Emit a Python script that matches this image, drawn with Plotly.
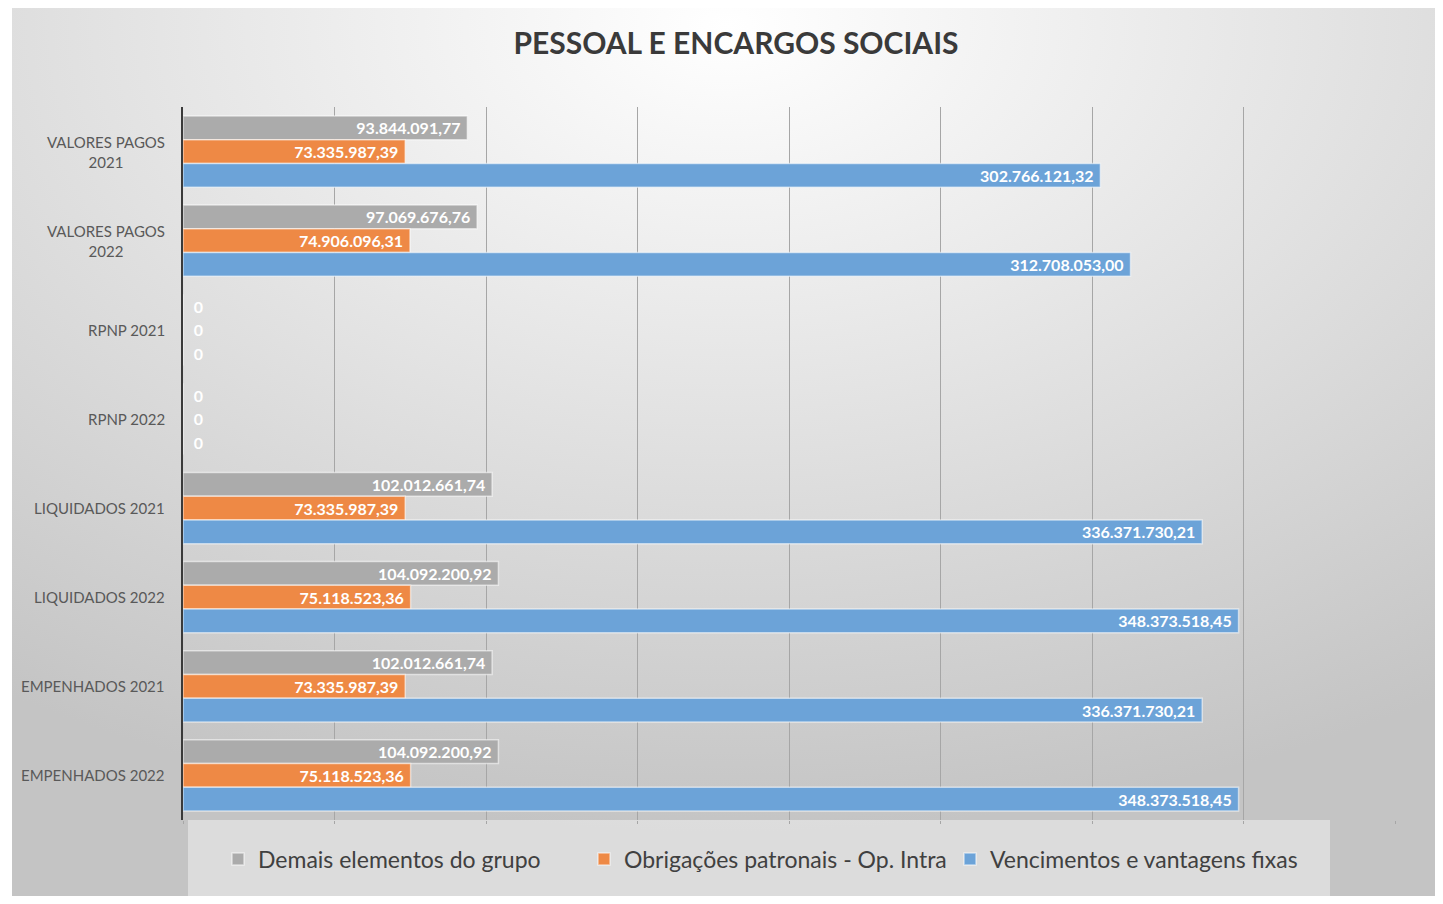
import base64
import plotly.graph_objects as go

# categories top to bottom
categorias = [
    "VALORES PAGOS<br>2021", "VALORES PAGOS<br>2022", "RPNP 2021", "RPNP 2022",
    "LIQUIDADOS 2021", "LIQUIDADOS 2022", "EMPENHADOS 2021", "EMPENHADOS 2022",
]
demais = [93844091.77, 97069676.76, 0, 0, 102012661.74, 104092200.92, 102012661.74, 104092200.92]
obrigacoes = [73335987.39, 74906096.31, 0, 0, 73335987.39, 75118523.36, 73335987.39, 75118523.36]
vencimentos = [302766121.32, 312708053.00, 0, 0, 336371730.21, 348373518.45, 336371730.21, 348373518.45]

series = [
    ("Demais elementos do grupo", demais, "#ababab"),
    ("Obrigações patronais - Op. Intra", obrigacoes, "#ee8945"),
    ("Vencimentos e vantagens fixas", vencimentos, "#6ca3d8"),
]

# page has an 8px body margin, so figure pixels = screen pixels - 8
OFF = 8
W, H = 1443 - OFF, 904 - 2 * OFF
L, T = 183 - OFF, 107 - OFF
R, B = W - (1395 - OFF), H - (820 - OFF)
pw, ph = W - L - R, H - T - B


def br(v):
    # brazilian number format
    if v == 0:
        return "&nbsp;&nbsp;0"
    return f"{v:,.2f}".replace(",", "X").replace(".", ",").replace("X", ".") + "&nbsp;"


def px_x(p):
    # screen pixel -> paper x
    return (p - OFF - L) / pw


def px_y(p):
    # screen pixel -> paper y
    return (H - B - (p - OFF)) / ph


fig = go.Figure()
for nome, vals, cor in series:
    fig.add_trace(go.Bar(
        y=categorias, x=vals, name=nome, orientation="h",
        marker=dict(color=cor, line=dict(color="rgba(255,255,255,0.55)", width=1.5)),
        text=[br(v) for v in vals],
        textposition=["outside" if v == 0 else "inside" for v in vals],
        insidetextanchor="end",
        textangle=0,
        constraintext="none",
        textfont=dict(family="Lato", size=16, color="white", weight="bold"),
        outsidetextfont=dict(family="Lato", size=16, color="white", weight="bold"),
        cliponaxis=False,
        hoverinfo="skip",
    ))

# radial gradient background like the excel chart area
svg = (
    '<svg xmlns="http://www.w3.org/2000/svg" width="1431" height="897" '
    'viewBox="0 0 1431 897" preserveAspectRatio="none">'
    '<defs><radialGradient id="g" cx="0.5" cy="0.02" r="0.9">'
    '<stop offset="0" stop-color="#ffffff"/><stop offset="1" stop-color="#c4c4c4"/>'
    '</radialGradient></defs><rect width="1431" height="897" fill="url(#g)"/></svg>'
)
bg_src = "data:image/svg+xml;base64," + base64.b64encode(svg.encode()).decode()

annots = []
for c in categorias:
    annots.append(dict(
        x=px_x(167), xref="paper", y=c, yref="y", text=c, showarrow=False,
        xanchor="right", yanchor="middle", align="center",
        font=dict(family="Lato", size=15, color="#595959"),
    ))

fig.update_layout(
    width=W, height=H,
    margin=dict(l=L, r=R, t=T, b=B, autoexpand=False),
    paper_bgcolor="white",
    plot_bgcolor="rgba(0,0,0,0)",
    barmode="group", bargap=0.2, bargroupgap=0,
    title=dict(
        text="<b>PESSOAL E ENCARGOS SOCIAIS</b>",
        x=(736 - OFF) / W, xanchor="center", y=1 - (43 - OFF) / H, yanchor="middle",
        font=dict(family="Lato", size=30, color="#3a3a3a"),
    ),
    xaxis=dict(
        range=[0, 400e6], dtick=50e6, showgrid=True, gridcolor="#a6a6a6", gridwidth=1.3,
        showticklabels=False, zeroline=False, ticks="outside", ticklen=3,
        tickcolor="#a6a6a6", showline=False, fixedrange=True,
    ),
    yaxis=dict(
        autorange="reversed", showticklabels=False, showgrid=False, zeroline=False,
        showline=True, linecolor="#3a3a3a", linewidth=2, fixedrange=True,
    ),
    legend=dict(
        orientation="h", x=px_x(218), xanchor="left", y=px_y(859), yanchor="middle",
        bgcolor="rgba(0,0,0,0)", font=dict(family="Lato", size=23, color="#404040"),
        traceorder="normal", entrywidth=321, entrywidthmode="pixels",
    ),
    images=[dict(
        source=bg_src, xref="paper", yref="paper", x=px_x(12), y=px_y(7),
        sizex=1431 / pw, sizey=897 / ph, sizing="stretch",
        xanchor="left", yanchor="top", layer="below",
    )],
    shapes=[dict(
        type="rect", xref="paper", yref="paper",
        x0=px_x(188), x1=px_x(1330), y0=px_y(820), y1=px_y(897),
        fillcolor="rgba(240,240,240,0.55)", line=dict(width=0), layer="below",
    )],
    annotations=annots,
)

fig.write_html("out.html")
